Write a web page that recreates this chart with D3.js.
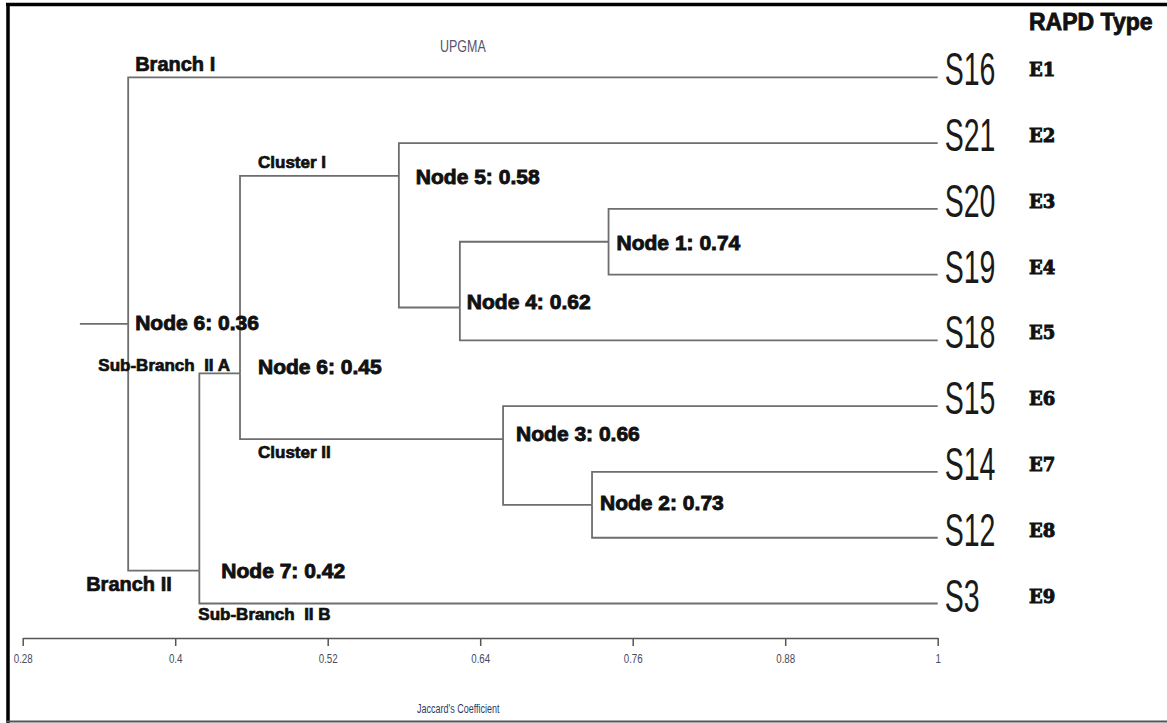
<!DOCTYPE html>
<html>
<head>
<meta charset="utf-8">
<script src="https://cdn.jsdelivr.net/npm/d3@7"></script>
<style>
  body { margin: 0; background: #fff; }
  .link { fill: none; stroke: #6e6e6e; stroke-width: 1.8; }
  .node-label { font-family: 'Liberation Sans', Arial, sans-serif; font-weight: bold; font-size: 21px; fill: #111; stroke: #111; stroke-width: 0.9; }
  .group-label { font-family: 'Liberation Sans', Arial, sans-serif; font-weight: bold; font-size: 17px; fill: #111; stroke: #111; stroke-width: 0.7; white-space: pre; }
  .leaf-label { font-family: 'Liberation Sans', Arial, sans-serif; font-size: 46px; fill: #1a1a1a; }
  .type-label { font-family: 'DejaVu Serif', serif; font-weight: bold; font-size: 18px; fill: #111; stroke: #111; stroke-width: 0.9; }
  .axis path, .axis line { stroke: #555; stroke-width: 1.5; }
  .axis text { font-family: 'Liberation Sans', Arial, sans-serif; font-size: 13px; fill: #4a4a5e; }
</style>
</head>
<body>
<div id="chart"></div>
<script>
// leaves, top to bottom
const leafNames = ['S16', 'S21', 'S20', 'S19', 'S18', 'S15', 'S14', 'S12', 'S3'];
const rapdTypes = ['E1', 'E2', 'E3', 'E4', 'E5', 'E6', 'E7', 'E8', 'E9'];

// internal nodes of the UPGMA tree
const nodeIds = ['n1', 'n2', 'n3', 'n4', 'n5', 'n6', 'n7', 'root'];
const nodeNames = ['Node 1', 'Node 2', 'Node 3', 'Node 4', 'Node 5', 'Node 6', 'Node 7', 'Node 6'];
const nodeCoefficients = [0.74, 0.73, 0.66, 0.62, 0.58, 0.45, 0.42, 0.36];
// where the joins are drawn on the Jaccard axis
const nodeHeights = [0.741, 0.728, 0.658, 0.624, 0.576, 0.451, 0.419, 0.363];
const nodeChildren = [
    ['S20', 'S19'], ['S14', 'S12'], ['S15', 'n2'], ['n1', 'S18'],
    ['S21', 'n4'], ['n5', 'n3'], ['n6', 'S3'], ['S16', 'n7']
];
// vertical position of each join, in leaf rows
const nodeRows = [2.5, 6.5, 5.5, 3.5, 1.5, 4.5, 7.5, 3.75];
const rootStart = 0.325;

const axisTicks = [0.28, 0.4, 0.52, 0.64, 0.76, 0.88, 1];

const groupNames = ['Branch I', 'Branch II', 'Cluster I', 'Cluster II', 'Sub-Branch  II A', 'Sub-Branch  II B'];
// which node / row each group label sits next to
const groupNodes = ['root', 'root', 'n6', 'n6', 'n7', 'n7'];
const groupRows = ['S16', 'n7', 'n5', 'n3', 'n6', 'S3'];

class dendrogram {
    constructor(_config) {
        this.config = {
            parentElement: _config.parentElement,
            containerWidth: _config.containerWidth || 1167,
            containerHeight: _config.containerHeight || 723,
        };
        this.initVis();
    }

    initVis() {
        let vis = this;

        vis.svg = d3.select(vis.config.parentElement)
            .append('svg')
            .attr('width', vis.config.containerWidth)
            .attr('height', vis.config.containerHeight);

        vis.xScale = d3.scaleLinear()
            .domain([0.28, 1])
            .range([22.7, 937.7]);

        vis.yScale = d3.scaleLinear()
            .domain([0, leafNames.length - 1])
            .range([77.3, 603.5]);

        vis.xAxis = d3.axisBottom(vis.xScale)
            .tickValues(axisTicks)
            .tickFormat(d => d)
            .tickSize(8)
            .tickSizeOuter(0);

        vis.xAxisG = vis.svg.append('g')
            .attr('class', 'axis x-axis')
            .attr('transform', 'translate(0,638)');

        // picture frame
        vis.svg.append('line').attr('x1', 6).attr('x2', 1167).attr('y1', 4.5).attr('y2', 4.5)
            .attr('stroke', '#000').attr('stroke-width', 3.5);
        vis.svg.append('line').attr('x1', 8).attr('x2', 8).attr('y1', 3).attr('y2', 723)
            .attr('stroke', '#000').attr('stroke-width', 3.5);
        vis.svg.append('line').attr('x1', 6).attr('x2', 1167).attr('y1', 721.5).attr('y2', 721.5)
            .attr('stroke', '#555').attr('stroke-width', 2);

        vis.svg.append('text')
            .attr('transform', 'translate(440,52) scale(0.78,1)')
            .style('font-family', "'Liberation Sans', Arial, sans-serif")
            .style('font-size', '16px')
            .attr('fill', '#56536a')
            .text('UPGMA');

        vis.svg.append('text')
            .attr('transform', 'translate(417,713) scale(0.75,1)')
            .style('font-family', "'Liberation Sans', Arial, sans-serif")
            .style('font-size', '12px')
            .attr('fill', '#2f3a66')
            .text("Jaccard's Coefficient");

        vis.svg.append('text')
            .attr('x', 1029)
            .attr('y', 30)
            .style('font-family', "'Liberation Sans', Arial, sans-serif")
            .style('font-weight', 'bold')
            .style('font-size', '23px')
            .attr('fill', '#111').attr('stroke', '#111').attr('stroke-width', 0.8)
            .text('RAPD Type');
    }

    updateVis() {
        let vis = this;

        vis.nodes = new Map();
        leafNames.forEach((name, i) => {
            vis.nodes.set(name, {id: name, height: 1, row: i, leaf: true, type: rapdTypes[i]});
        });
        nodeIds.forEach((id, i) => {
            vis.nodes.set(id, {
                id: id, height: nodeHeights[i], row: nodeRows[i], leaf: false,
                label: `${nodeNames[i]}: ${nodeCoefficients[i].toFixed(2)}`,
                children: nodeChildren[i]
            });
        });

        vis.links = [];
        nodeIds.forEach(id => {
            const parent = vis.nodes.get(id);
            parent.children.forEach(c => vis.links.push({source: parent, target: vis.nodes.get(c)}));
        });

        vis.groups = groupNames.map((name, i) => ({
            name: name,
            node: vis.nodes.get(groupNodes[i]),
            rowNode: vis.nodes.get(groupRows[i])
        }));

        vis.xAxisG.call(vis.xAxis);
        vis.renderVis();
    }

    renderVis() {
        let vis = this;
        const x = vis.xScale, y = vis.yScale;

        // elbow links: down/up from the join, then across to the child
        vis.svg.selectAll('.link')
            .data(vis.links)
            .join('path')
            .attr('class', 'link')
            .attr('d', d => `M${x(d.source.height)},${y(d.source.row)}V${y(d.target.row)}H${x(d.target.height)}`);

        const root = vis.nodes.get('root');
        vis.svg.append('path')
            .attr('class', 'link')
            .attr('d', `M${x(rootStart)},${y(root.row)}H${x(root.height)}`);

        const leaves = Array.from(vis.nodes.values()).filter(d => d.leaf);

        vis.svg.selectAll('.leaf-label')
            .data(leaves)
            .join('text')
            .attr('class', 'leaf-label')
            .attr('transform', d => `translate(${x(d.height) + 7},${y(d.row) + 8}) scale(0.62,1)`)
            .text(d => d.id);

        vis.svg.selectAll('.type-label')
            .data(leaves)
            .join('text')
            .attr('class', 'type-label')
            .attr('x', 1029)
            .attr('y', d => y(d.row) - 1)
            .text(d => d.type);

        // label nudges per internal node
        const nudge = {
            n1: [8, 8], n2: [8, 5], n3: [13, 2], n4: [7, 1],
            n5: [17, 8], n6: [18, 1], n7: [22, 7], root: [7, 6]
        };
        const inner = Array.from(vis.nodes.values()).filter(d => !d.leaf);
        vis.svg.selectAll('.node-label')
            .data(inner)
            .join('text')
            .attr('class', 'node-label')
            .attr('x', d => x(d.height) + nudge[d.id][0])
            .attr('y', d => y(d.row) + nudge[d.id][1])
            .text(d => d.label);

        const groupNudge = [[7, -6], [-42, 20], [18, -8], [18, 19], [-101, -2], [-1, 16]];
        vis.svg.selectAll('.group-label')
            .data(vis.groups)
            .join('text')
            .attr('class', 'group-label')
            .attr('x', (d, i) => x(d.node.height) + groupNudge[i][0])
            .attr('y', (d, i) => y(d.rowNode.row) + groupNudge[i][1])
            .style('font-size', (d, i) => i < 2 ? '20px' : '17px')
            .text(d => d.name);

        vis.xAxisG.selectAll('.tick text')
            .attr('y', 0)
            .attr('dy', 0)
            .attr('transform', 'translate(0,25) scale(0.75,1)');
    }
}

const chart = new dendrogram({parentElement: '#chart'});
chart.updateVis();
</script>
</body>
</html>
